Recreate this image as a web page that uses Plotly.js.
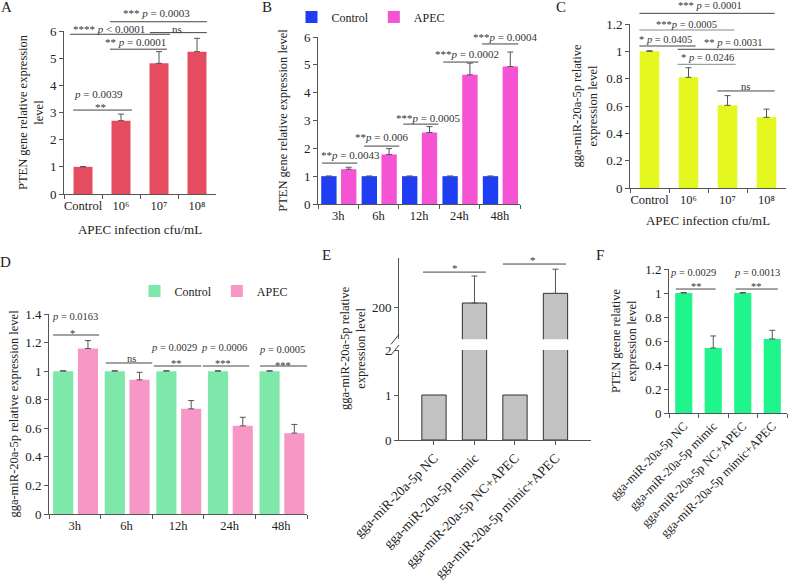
<!DOCTYPE html>
<html><head><meta charset="utf-8">
<script src="https://cdn.plot.ly/plotly-3.0.1.min.js"></script>
<style>html,body{margin:0;padding:0;background:#fff}#chart{width:791px;height:581px}</style>
</head><body><div id="chart"></div>
<script>
// ================= DATA =================
const doseCats = ['Control', '10\u2076', '10\u2077', '10\u2078'];
const timeCats = ['3h', '6h', '12h', '24h', '48h'];
const transCats = ['gga-miR-20a-5p NC', 'gga-miR-20a-5p mimic', 'gga-miR-20a-5p NC+APEC', 'gga-miR-20a-5p mimic+APEC'];
const seriesNames = ['Control', 'APEC'];

// A: PTEN vs APEC dose
const ptenDose = [1, 2.70, 4.81, 5.24];
const ptenDoseErr = [0.01, 0.24, 0.43, 0.49];
// B: PTEN vs time
const ptenTimeControl = [1, 1, 1, 1, 1];
const ptenTimeControlErr = [0, 0, 0, 0, 0];
const ptenTimeApec = [1.25, 1.78, 2.57, 4.64, 4.94];
const ptenTimeApecErr = [0.07, 0.21, 0.21, 0.42, 0.52];
// C: miR-20a-5p vs dose
const mirDose = [1, 0.81, 0.605, 0.517];
const mirDoseErr = [0.004, 0.07, 0.071, 0.06];
// D: miR-20a-5p vs time
const mirTimeControl = [1, 1, 1, 1, 1];
const mirTimeControlErr = [0.003, 0.003, 0.003, 0.003, 0.003];
const mirTimeApec = [1.158, 0.939, 0.736, 0.617, 0.566];
const mirTimeApecErr = [0.056, 0.053, 0.058, 0.06, 0.061];
// E: miR-20a-5p after transfection (broken axis)
const mirTrans = [1, 210, 1, 234];
const mirTransErr = [0, 67, 0, 60];
// F: PTEN after transfection
const ptenTrans = [1, 0.542, 1, 0.617];
const ptenTransErr = [0.004, 0.1, 0.004, 0.072];

// significance texts
const sigTextA = ['<i>p</i> = 0.0039', '**', '**** <i>p</i> &lt; 0.0001', '** <i>p</i> = 0.0001', 'ns', '*** <i>p</i> = 0.0003'];
const sigTextB = ['**<i>p</i> = 0.0043', '**<i>p</i> = 0.006', '***<i>p</i> = 0.0005', '***<i>p</i> = 0.0002', '***<i>p</i> = 0.0004'];
const sigTextC = ['*** <i>p</i> = 0.0001', '***<i>p</i> = 0.0005', '* <i>p</i> = 0.0405', '** <i>p</i> = 0.0031', '* <i>p</i> = 0.0246', 'ns'];
const sigTextD = ['<i>p</i> = 0.0163', '*', 'ns', '<i>p</i> = 0.0029', '**', '<i>p</i> = 0.0006', '***', '<i>p</i> = 0.0005', '***'];
const sigTextE = ['*', '*'];
const sigTextF = ['<i>p</i> = 0.0029', '**', '<i>p</i> = 0.0013', '**'];

// ================= LAYOUT HELPERS =================
const W = 791, H = 581;
const FONT = 'Liberation Serif, Times New Roman, serif';
const AX = '#555';
const dx = (l, r) => [l / W, r / W];
const dy = (t, b) => [1 - b / H, 1 - t / H];

const ranges = {
  y: [0, 6], y2: [0, 6], y3: [0, 1.2], y4: [0, 1.4], y5: [0, 2], y6: [120, 321], y7: [0, 1.2]
};
const frac = (ya, v) => (v - ranges[ya][0]) / (ranges[ya][1] - ranges[ya][0]);

function yAxis(domain, ya, dtick, title, standoff, extra) {
  const ax = {
    domain: domain, range: ranges[ya], dtick: dtick, tick0: 0,
    showline: true, linecolor: AX, linewidth: 1, ticks: 'outside', ticklen: 4, tickcolor: AX,
    showgrid: false, zeroline: false, fixedrange: true,
    tickfont: {family: FONT, size: 13, color: '#222'}
  };
  if (title) ax.title = {text: title, font: {family: FONT, size: 12.5, color: '#222'}, standoff: standoff};
  return Object.assign(ax, extra || {});
}
function xAxis(domain, range, anchor, extra) {
  return Object.assign({
    domain: domain, range: range, type: 'category', anchor: anchor,
    showline: true, linecolor: AX, linewidth: 1, ticks: 'outside', ticklen: 4, tickcolor: AX,
    tickson: 'boundaries', tickangle: 0, showgrid: false, zeroline: false, fixedrange: true,
    tickfont: {family: FONT, size: 12.5, color: '#222'}
  }, extra || {});
}
const errStyle = (arr) => ({type: 'data', symmetric: false, array: arr, arrayminus: arr.map(() => 0),
  color: '#555', thickness: 1, width: 3});

// ================= TRACES =================
const traces = [
  // A
  {type: 'bar', x: doseCats, y: ptenDose, xaxis: 'x', yaxis: 'y', width: 0.5,
   marker: {color: '#e54c5f'}, error_y: errStyle(ptenDoseErr), showlegend: false, name: 'PTEN'},
  // B
  {type: 'bar', name: seriesNames[0], x: timeCats, y: ptenTimeControl, xaxis: 'x2', yaxis: 'y2',
   width: 0.38, offset: -0.42, marker: {color: '#1f3df2'}, error_y: errStyle(ptenTimeControlErr), legend: 'legend'},
  {type: 'bar', name: seriesNames[1], x: timeCats, y: ptenTimeApec, xaxis: 'x2', yaxis: 'y2',
   width: 0.38, offset: 0.07, marker: {color: '#f553d3'}, error_y: errStyle(ptenTimeApecErr), legend: 'legend'},
  // C
  {type: 'bar', x: doseCats, y: mirDose, xaxis: 'x3', yaxis: 'y3', width: 0.5,
   marker: {color: '#e4f71f'}, error_y: errStyle(mirDoseErr), showlegend: false, name: 'miR'},
  // D
  {type: 'bar', name: seriesNames[0], x: timeCats, y: mirTimeControl, xaxis: 'x4', yaxis: 'y4',
   width: 0.39, offset: -0.42, marker: {color: '#7de8a9'}, error_y: errStyle(mirTimeControlErr), legend: 'legend2'},
  {type: 'bar', name: seriesNames[1], x: timeCats, y: mirTimeApec, xaxis: 'x4', yaxis: 'y4',
   width: 0.39, offset: 0.06, marker: {color: '#f797c6'}, error_y: errStyle(mirTimeApecErr), legend: 'legend2'},
  // E lower segment
  {type: 'bar', x: transCats, y: mirTrans, xaxis: 'x5', yaxis: 'y5', width: 0.6,
   marker: {color: '#c2c2c2', line: {color: '#333', width: 1}}, showlegend: false, name: 'miR'},
  // E upper segment
  {type: 'bar', x: transCats, y: mirTrans, xaxis: 'x5', yaxis: 'y6', width: 0.6,
   marker: {color: '#c2c2c2', line: {color: '#333', width: 1}}, error_y: errStyle(mirTransErr),
   showlegend: false, name: 'miR'},
  // F
  {type: 'bar', x: transCats, y: ptenTrans, xaxis: 'x6', yaxis: 'y7', width: 0.58,
   marker: {color: '#1ff58b'}, error_y: errStyle(ptenTransErr), showlegend: false, name: 'PTEN'}
];

// ================= ANNOTATIONS / BRACKETS =================
const shapes = [];
const annotations = [];
function bracket(xa, ya, x0, x1, y, color) {
  shapes.push({type: 'line', xref: xa, yref: ya + ' domain', x0: x0, x1: x1, y0: frac(ya, y), y1: frac(ya, y),
    line: {color: color || '#444', width: 1}});
}
function label(xa, ya, text, x, y, size) {
  annotations.push({xref: xa, yref: ya + ' domain', x: x, y: frac(ya, y), text: text, showarrow: false,
    xanchor: 'center', yanchor: 'middle', font: {family: FONT, size: size || 11, color: '#333'}});
}
// A
bracket('x', 'y', -0.26, 1.29, 3.09);
bracket('x', 'y', -0.34, 2.29, 5.88);
bracket('x', 'y', 0.71, 2.21, 5.33);
bracket('x', 'y', 1.76, 3.26, 5.94);
bracket('x', 'y', 0.71, 3.26, 6.34);
label('x', 'y', sigTextA[0], 0.4, 3.68);
label('x', 'y', sigTextA[1], 0.45, 3.2);
label('x', 'y', sigTextA[2], 0.68, 6.07);
label('x', 'y', sigTextA[3], 1.37, 5.6);
label('x', 'y', sigTextA[4], 2.47, 6.07);
label('x', 'y', sigTextA[5], 1.94, 6.66);
// B
[[-0.4, 0.47, 1.47], [0.64, 1.51, 2.08], [1.61, 2.48, 2.87], [2.6, 3.47, 5.1], [3.56, 4.46, 5.75]]
  .forEach(b => bracket('x2', 'y2', b[0], b[1], b[2]));
[[0.31, 1.76], [1.06, 2.41], [2.22, 3.09], [3.2, 5.39], [4.12, 6.0]]
  .forEach((p, i) => label('x2', 'y2', sigTextB[i], p[0], p[1]));
// C
[[-0.26, 3.21, 1.278], [-0.26, 2.18, 1.156], [-0.26, 1.18, 1.039], [0.72, 3.21, 1.015], [0.72, 2.21, 0.905], [1.74, 3.21, 0.71]]
  .forEach((b, i) => bracket('x3', 'y3', b[0], b[1], b[2], (i === 1 || i === 4) ? '#888' : '#444'));
[[1.54, 1.339], [0.96, 1.2], [0.41, 1.088], [2.13, 1.063], [1.49, 0.956], [2.46, 0.746]]
  .forEach((p, i) => label('x3', 'y3', sigTextC[i], p[0], p[1], 10.5));
// D
[[-0.42, 0.47, 1.253], [0.6, 1.5, 1.057], [1.53, 2.45, 1.036], [2.48, 3.38, 1.036], [3.59, 4.5, 1.036]]
  .forEach(b => bracket('x4', 'y4', b[0], b[1], b[2]));
[[0.01, 1.38], [-0.04, 1.265], [1.1, 1.092], [1.92, 1.165], [1.97, 1.055], [2.9, 1.165], [2.87, 1.055], [4.01, 1.15], [4.03, 1.037]]
  .forEach((p, i) => label('x4', 'y4', sigTextD[i], p[0], p[1], 10.5));
// E
bracket('x5', 'y6', -0.27, 1.28, 286.75);
bracket('x5', 'y6', 1.7, 3.26, 306.75);
label('x5', 'y6', sigTextE[0], 0.52, 296, 11);
label('x5', 'y6', sigTextE[1], 2.44, 316, 11);
// F
bracket('x6', 'y7', -0.27, 1.08, 1.033);
bracket('x6', 'y7', 1.76, 3.19, 1.033);
[[0.3, 1.175], [0.44, 1.058], [2.47, 1.17], [2.47, 1.058]]
  .forEach((p, i) => label('x6', 'y7', sigTextF[i], p[0], p[1], 10.5));

// axis break marks for E
const eUpperBottom = 339.3, eLowerTop = 350;
[eUpperBottom, eLowerTop].forEach(py => {
  shapes.push({type: 'line', xref: 'paper', yref: 'paper', x0: 391 / W, x1: 399 / W,
    y0: 1 - (py + 5) / H, y1: 1 - (py - 5) / H, line: {color: '#444', width: 1}});
});

// panel letters
[['A', 6, 7], ['B', 267, 7], ['C', 561, 7], ['D', 5, 262], ['E', 326, 255], ['F', 600, 255]].forEach(l => {
  annotations.push({xref: 'paper', yref: 'paper', x: l[1] / W, y: 1 - l[2] / H, text: l[0], showarrow: false,
    xanchor: 'center', yanchor: 'middle', font: {family: FONT, size: 15, color: '#222'}});
});
// E y title (spans the broken axis)
annotations.push({xref: 'paper', yref: 'paper', x: 353 / W, y: 1 - 348 / H, textangle: -90,
  text: 'gga-miR-20a-5p relative<br>expression level', showarrow: false, xanchor: 'center', yanchor: 'middle',
  font: {family: FONT, size: 12.5, color: '#222'}});

const layout = {
  width: W, height: H, margin: {l: 0, r: 0, t: 0, b: 0},
  paper_bgcolor: '#fff', plot_bgcolor: 'rgba(0,0,0,0)',
  font: {family: FONT, color: '#222'},
  barmode: 'overlay', showlegend: true,
  legend: {orientation: 'h', x: 371 / W, y: 1 - 17 / H, xanchor: 'center', yanchor: 'middle',
    font: {family: FONT, size: 12, color: '#222'}, bgcolor: 'rgba(0,0,0,0)', itemwidth: 30},
  legend2: {orientation: 'h', x: 214 / W, y: 1 - 291 / H, xanchor: 'center', yanchor: 'middle',
    font: {family: FONT, size: 12, color: '#222'}, bgcolor: 'rgba(0,0,0,0)', itemwidth: 30},
  // A
  xaxis: xAxis(dx(64, 216), [-0.5, 3.5], 'y', {title: {text: 'APEC infection cfu/mL', font: {family: FONT, size: 13, color: '#222'}, standoff: 12}}),
  yaxis: yAxis(dy(31, 194), 'y', 1, 'PTEN gene relative expression<br>level', 3, {anchor: 'x'}),
  // B
  xaxis2: xAxis(dx(318, 520), [-0.5, 4.5], 'y2'),
  yaxis2: yAxis(dy(37, 204), 'y2', 1, 'PTEN gene relative expression level', 13, {anchor: 'x2'}),
  // C
  xaxis3: xAxis(dx(630, 786), [-0.5, 3.5], 'y3', {title: {text: 'APEC infection cfu/mL', font: {family: FONT, size: 13, color: '#222'}, standoff: 9}}),
  yaxis3: yAxis(dy(24, 188), 'y3', 0.2, 'gga-miR-20a-5p relative<br>expression level', 5, {anchor: 'x3'}),
  // D
  xaxis4: xAxis(dx(49, 307), [-0.5, 4.5], 'y4'),
  yaxis4: yAxis(dy(314, 514), 'y4', 0.2, 'gga-miR-20a-5p relative expression level', 3, {anchor: 'x4'}),
  // E
  xaxis5: xAxis(dx(399, 591), [-0.864, 3.877], 'y5', {tickson: 'labels', tickangle: -45,
    tickfont: {family: FONT, size: 13.5, color: '#222'}}),
  yaxis5: yAxis(dy(eLowerTop, 440), 'y5', 1, null, 0, {anchor: 'x5', tickvals: [0, 1, 2]}),
  yaxis6: yAxis(dy(258.3, eUpperBottom), 'y6', 100, null, 0, {anchor: 'x5', tickvals: [200]}),
  // F
  xaxis6: xAxis(dx(669, 787), [-0.5, 3.5], 'y7', {tickangle: -45, tickfont: {family: FONT, size: 12.5, color: '#222'}}),
  yaxis7: yAxis(dy(269, 413), 'y7', 0.2, 'PTEN geene relative<br>expression level', 5, {anchor: 'x6'}),
  shapes: shapes,
  annotations: annotations
};

Plotly.newPlot('chart', traces, layout, {staticPlot: true, displayModeBar: false});
</script>
</body></html>
